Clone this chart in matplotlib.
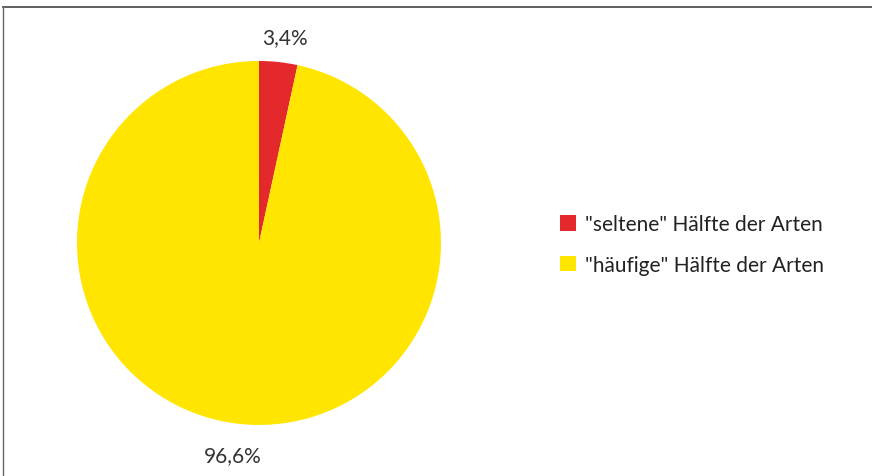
import numpy as np
import matplotlib.pyplot as plt
from matplotlib.lines import Line2D

plt.rcParams['font.family'] = ['Lato', 'DejaVu Sans']

labels = ['"seltene" Hälfte der Arten', '"häufige" Hälfte der Arten']
shares = [3.4, 96.6]
colors = ['#E3292B', '#FFE500']
label_dist = [1.135, 1.175]

fig = plt.figure(figsize=(8.72, 4.77), dpi=100)
ax = fig.add_axes([0.0883, 0.107, 0.4174, 0.7631])

wedges, texts, autotexts = ax.pie(
    shares, colors=colors, startangle=90, counterclock=False,
    autopct=lambda p: f'{p:.1f}'.replace('.', ',') + '%',
    pctdistance=1.16, radius=1.0,
    wedgeprops=dict(linewidth=0),
    textprops=dict(fontsize=15, color='#333333'))
ax.set_xlim(-1, 1)
ax.set_ylim(-1, 1)
ax.set_aspect('equal')

# push the percentage labels out a little, each by its own distance
for w, t, d in zip(wedges, autotexts, label_dist):
    mid = np.deg2rad((w.theta1 + w.theta2) / 2)
    t.set_position((d * np.cos(mid) + 0.02 * np.sign(np.cos(mid)), d * np.sin(mid)))
    t.set_clip_on(False)

fig.legend(wedges, labels, loc='center left', bbox_to_anchor=(0.621, 0.485),
           frameon=False, fontsize=15, handlelength=0.75, handleheight=0.75,
           handletextpad=0.45, labelspacing=1.0, labelcolor='#222222')

# frame lines along the top and left edge
fig.add_artist(Line2D([0.0035, 1.0], [0.983, 0.983], transform=fig.transFigure,
                      color='#444444', linewidth=1.2))
fig.add_artist(Line2D([0.0035, 0.0035], [0.0, 0.983], transform=fig.transFigure,
                      color='#666666', linewidth=1.0))

fig.savefig('out.png', dpi=100)
